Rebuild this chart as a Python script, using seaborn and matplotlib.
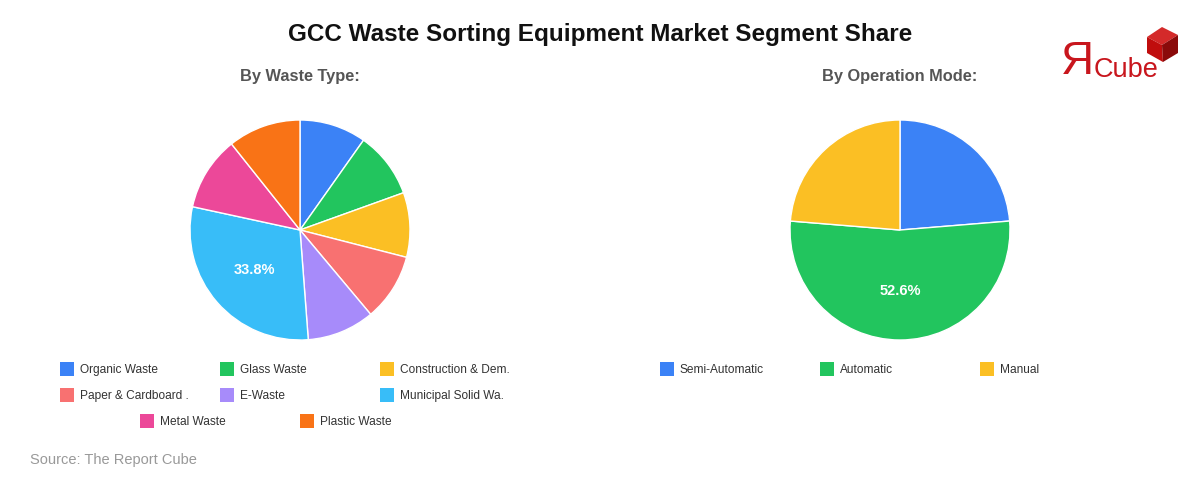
import matplotlib.pyplot as plt
import seaborn as sns
from matplotlib.patches import Rectangle, Polygon
import numpy as np

# data
waste_types = ['Organic Waste', 'Glass Waste', 'Construction & Dem.',
               'Paper & Cardboard .', 'E-Waste', 'Municipal Solid Wa.',
               'Metal Waste', 'Plastic Waste']
waste_share = [9.8, 9.7, 9.5, 9.9, 9.9, 29.6, 10.9, 10.7]
waste_text = ['', '', '', '', '', '33.8%', '', '']

op_modes = ['Semi-Automatic', 'Automatic', 'Manual']
op_share = [23.7, 52.6, 23.7]
op_text = ['', '52.6%', '']

waste_colors = ['#3b82f6', '#22c55e', '#fbbf24', '#f87171',
                '#a78bfa', '#38bdf8', '#ec4899', '#f97316']
op_colors = ['#3b82f6', '#22c55e', '#fbbf24']

sns.set_theme(style='white')
plt.rcParams['font.family'] = ['Liberation Sans', 'DejaVu Sans']

W, H = 1200, 480
fig = plt.figure(figsize=(12, 4.8), dpi=100)
fig.patch.set_facecolor('white')


def fx(px):
    return px / W


def fy(py):
    return 1 - py / H


def draw_pie(cx, values, colors, texts):
    ax = fig.add_axes([fx(cx - 110), fy(340), 220 / W, 220 / H])
    wedges, _ = ax.pie(values, colors=sns.color_palette(colors), startangle=90,
                       counterclock=False,
                       wedgeprops=dict(edgecolor='white', linewidth=1))
    ax.set_xlim(-1, 1)
    ax.set_ylim(-1, 1)
    ax.set_aspect('equal')
    ax.axis('off')
    for w, t in zip(wedges, texts):
        if not t:
            continue
        mid = np.deg2rad((w.theta1 + w.theta2) / 2)
        ax.text(0.55 * np.cos(mid), 0.55 * np.sin(mid), t, ha='center',
                va='center', color='white', fontsize=10.5, fontweight='bold')
    return ax


def draw_legend(positions, labels, colors):
    for (x, y), lab, c in zip(positions, labels, colors):
        fig.patches.append(Rectangle((fx(x), fy(y + 7)), 14 / W, 14 / H,
                                     transform=fig.transFigure,
                                     facecolor=c, edgecolor='none'))
        fig.text(fx(x + 20), fy(y + 1), lab, ha='left', va='center',
                 fontsize=8.6, color='#333333')


fig.text(0.5, fy(34), 'GCC Waste Sorting Equipment Market Segment Share',
         ha='center', va='center', fontsize=17.5, fontweight='bold', color='#111111')
fig.text(fx(300), fy(77), 'By Waste Type:', ha='center', va='center',
         fontsize=11.8, fontweight='bold', color='#555555')
fig.text(fx(900), fy(77), 'By Operation Mode:', ha='center', va='center',
         fontsize=11.8, fontweight='bold', color='#555555')

draw_pie(300, waste_share, waste_colors, waste_text)
draw_pie(900, op_share, op_colors, op_text)

left_pos = [(60, 369), (220, 369), (380, 369),
            (60, 395), (220, 395), (380, 395),
            (140, 421), (300, 421)]
draw_legend(left_pos, waste_types, waste_colors)
right_pos = [(660, 369), (820, 369), (980, 369)]
draw_legend(right_pos, op_modes, op_colors)

fig.text(fx(30), fy(460), 'Source: The Report Cube', ha='left', va='center',
         fontsize=10.5, color='#999999')

# logo
fig.text(fx(1061), fy(62), '\u042f', ha='left', va='center', fontsize=33,
         color='#c8161d')
fig.text(fx(1094), fy(70), 'Cube', ha='left', va='center', fontsize=19.5,
         color='#c8161d')
top, ur, lr, bot, ll, ul, c = ((1162, 27), (1178, 35), (1178, 53), (1163, 62),
                               (1147, 53), (1147, 37), (1162, 45))
for pts, col in [((top, ur, c, ul), '#d42a2a'),
                 ((ul, c, bot, ll), '#c00d0d'),
                 ((c, ur, lr, bot), '#8a0a0a')]:
    fig.patches.append(Polygon([(fx(x), fy(y)) for x, y in pts],
                               transform=fig.transFigure, facecolor=col,
                               edgecolor='none'))

fig.savefig('out.png', dpi=100)
